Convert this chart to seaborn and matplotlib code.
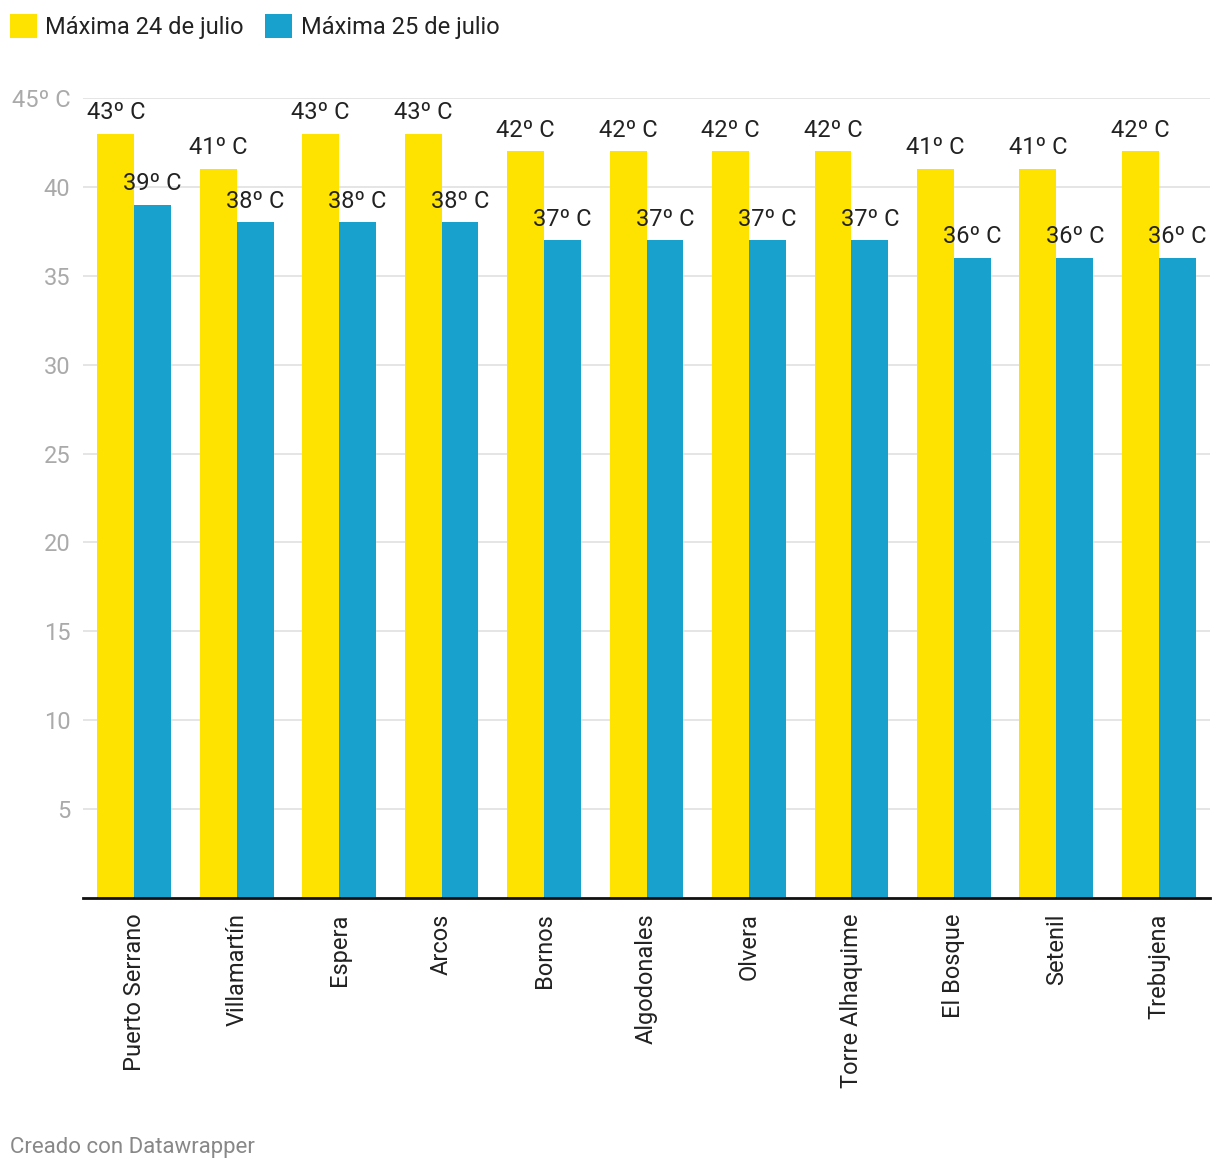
import matplotlib
matplotlib.use("Agg")
import matplotlib.pyplot as plt
import seaborn as sns
import pandas as pd

ciudades = ["Puerto Serrano", "Villamartín", "Espera", "Arcos", "Bornos", "Algodonales",
            "Olvera", "Torre Alhaquime", "El Bosque", "Setenil", "Trebujena"]
max_24 = [43, 41, 43, 43, 42, 42, 42, 42, 41, 41, 42]
max_25 = [39, 38, 38, 38, 37, 37, 37, 37, 36, 36, 36]
series = ["Máxima 24 de julio", "Máxima 25 de julio"]
colores = ["#FFE300", "#18A1CD"]
yticks = [5, 10, 15, 20, 25, 30, 35, 40, 45]
ytick_labels = ["5", "10", "15", "20", "25", "30", "35", "40", "45º C"]

df = pd.DataFrame({
    "ciudad": ciudades * 2,
    "temp": max_24 + max_25,
    "serie": [series[0]] * len(ciudades) + [series[1]] * len(ciudades),
})

sns.set_theme(style="white")
plt.rcParams["font.family"] = ["Roboto", "DejaVu Sans"]

fig = plt.figure(figsize=(12.2, 11.72), dpi=100)
ax = fig.add_axes([83 / 1220, 274 / 1172, 1127 / 1220, 800 / 1172])

sns.barplot(data=df, x="ciudad", y="temp", hue="serie", palette=colores,
            width=0.72, ax=ax, saturation=1, legend=True, linewidth=0)

ax.set_ylim(0, 45)
ax.set_xlim(-0.5, len(ciudades) - 0.5)
ax.set_yticks(yticks)
ax.set_yticklabels(ytick_labels)
ax.tick_params(axis="y", length=0, pad=9, labelsize=17, labelcolor="#aaaaaa")
ax.tick_params(axis="x", length=0, pad=11, labelsize=17, labelcolor="#222222", rotation=90)
for lbl in ax.get_xticklabels():
    lbl.set_va("top")
    lbl.set_ha("center")
ax.set_xlabel("")
ax.set_ylabel("")
ax.grid(axis="y", color="#e3e3e3", linewidth=1.3)
ax.set_axisbelow(True)
for s in ["top", "right", "left"]:
    ax.spines[s].set_visible(False)
ax.spines["bottom"].set_color("#111111")
ax.spines["bottom"].set_linewidth(2)

for cont in ax.containers:
    labs = [f"{int(round(b.get_height()))}º C" for b in cont]
    ax.bar_label(cont, labels=labs, padding=7, fontsize=17, color="#222222")

handles, labels = ax.get_legend_handles_labels()
ax.get_legend().remove()
fig.legend(handles, labels, loc="upper left", bbox_to_anchor=(10 / 1220, 1 - 14 / 1172),
           ncol=2, frameon=False, fontsize=17, handlelength=1.15, handleheight=1.2,
           handletextpad=0.35, columnspacing=0.9, borderpad=0, borderaxespad=0,
           labelcolor="#222222")

fig.text(10 / 1220, 1 - 1147 / 1172, "Creado con Datawrapper", fontsize=16,
         color="#888888", va="center", ha="left")

fig.savefig("out.png", dpi=100)
